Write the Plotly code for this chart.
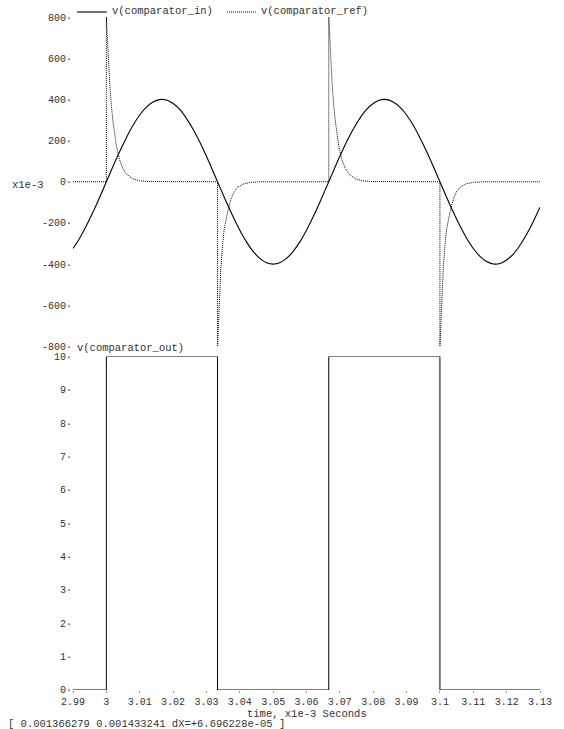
import numpy as np
import plotly.graph_objects as go

# ---- data (time in ms, voltages: top panel in mV, bottom in V) ----
# comparator input: sampled sine, 2 us step from 2.99 ms to 3.13 ms
in_t = np.round(2.99 + 0.002 * np.arange(71), 3)
in_mv = [-324, -274, -214, -147, -75, 0, 75, 147, 214, 274,
         324, 362, 387, 399, 397, 380, 351, 308, 255, 193,
         124, 50, -25, -99, -170, -235, -292, -338, -372, -393,
         -400, -393, -372, -338, -292, -235, -170, -99, -25, 50,
         124, 193, 255, 308, 351, 380, 397, 399, 387, 362,
         324, 274, 214, 147, 75, 0, -75, -147, -214, -274,
         -324, -362, -387, -399, -397, -380, -351, -308, -255, -193,
         -124]

# comparator reference: differentiated edges (spikes that decay back to 0)
ref_t = [2.99,
         3.0, 3.0, 3.0005, 3.001, 3.0015, 3.002, 3.003, 3.004, 3.005, 3.006, 3.008, 3.010, 3.013, 3.018,
         3.03333, 3.03333, 3.03383, 3.03433, 3.03483, 3.03533, 3.03633, 3.03733, 3.03833, 3.03933, 3.04133, 3.04333, 3.04633, 3.05133,
         3.06667, 3.06667, 3.06717, 3.06767, 3.06817, 3.06867, 3.06967, 3.07067, 3.07167, 3.07267, 3.07467, 3.07667, 3.07967, 3.08467,
         3.1, 3.1, 3.1005, 3.101, 3.1015, 3.102, 3.103, 3.104, 3.105, 3.106, 3.108, 3.110, 3.113, 3.118,
         3.13]
ref_mv = [0,
          0, 800, 620, 480, 370, 290, 175, 105, 63, 38, 14, 5, 1, 0,
          0, -800, -570, -420, -310, -230, -150, -85, -48, -27, -9, -3, 0, 0,
          0, 800, 620, 480, 370, 290, 175, 105, 63, 38, 14, 5, 1, 0,
          0, -800, -570, -420, -310, -230, -150, -85, -48, -27, -9, -3, 0, 0,
          0]

# comparator output: 0 / 10 V square wave
out_t = [2.99, 3.0, 3.0, 3.03333, 3.03333, 3.06667, 3.06667, 3.1, 3.1, 3.13]
out_v = [0, 0, 10, 10, 0, 0, 10, 10, 0, 0]

x_ticks = [2.99, 3.0, 3.01, 3.02, 3.03, 3.04, 3.05, 3.06, 3.07, 3.08, 3.09, 3.1, 3.11, 3.12, 3.13]
x_labels = ["2.99", "3", "3.01", "3.02", "3.03", "3.04", "3.05", "3.06", "3.07",
            "3.08", "3.09", "3.1", "3.11", "3.12", "3.13"]
top_ticks = [-800, -600, -400, -200, 0, 200, 400, 600, 800]
bot_ticks = list(range(0, 11))

FONT = "Liberation Mono"
TXT = "#333333"

fig = go.Figure()
fig.add_trace(go.Scatter(x=in_t, y=in_mv, mode="lines", line=dict(color="black", width=1.1, shape="spline"),
                         xaxis="x2", yaxis="y2", name="v(comparator_in)"))
fig.add_trace(go.Scatter(x=ref_t, y=ref_mv, mode="lines", line=dict(color="black", width=1, dash="1px,1px"),
                         xaxis="x2", yaxis="y2", name="v(comparator_ref)"))
fig.add_trace(go.Scatter(x=out_t, y=out_v, mode="lines", line=dict(color="black", width=1),
                         xaxis="x", yaxis="y", name="v(comparator_out)"))

W, H = 564, 729
L, R, T, B = 73, 21, 14, 39
pw, ph = W - L - R, H - T - B


def px(xp):
    return (xp - L) / pw


def py(yp):
    return (H - B - yp) / ph


top_lo = py(345)
bot_hi = py(355)

tickfont = dict(family=FONT, size=10, color=TXT)
fig.update_layout(
    width=W, height=H, margin=dict(l=L, r=R, t=T, b=B),
    plot_bgcolor="white", paper_bgcolor="white", showlegend=False,
    font=dict(family=FONT, size=10, color=TXT),
    xaxis=dict(domain=[0, 1], anchor="y", range=[2.99, 3.13], tickvals=x_ticks, ticktext=x_labels,
               showgrid=False, zeroline=False, showline=False, ticks="outside", ticklen=2,
               tickcolor="#999999", tickfont=tickfont),
    yaxis=dict(domain=[0, bot_hi], anchor="x", range=[0, 10], tickvals=bot_ticks,
               ticktext=[f"{v}\u00b7" for v in bot_ticks], showgrid=False, zeroline=False,
               showline=False, ticks="", tickfont=tickfont, ticklabelstandoff=0),
    xaxis2=dict(domain=[0, 1], anchor="y2", range=[2.99, 3.13], matches="x", showticklabels=False,
                showgrid=False, zeroline=False, showline=False, ticks=""),
    yaxis2=dict(domain=[top_lo, 1], anchor="x2", range=[-800, 800], tickvals=top_ticks,
                ticktext=[f"{v}\u00b7" for v in top_ticks], showgrid=False, zeroline=False,
                showline=False, ticks="", tickfont=tickfont, ticklabelstandoff=0),
)

# legend samples and labels drawn as in the original plotter
fig.add_shape(type="line", xref="paper", yref="paper", x0=px(77), x1=px(107), y0=py(9), y1=py(9),
              line=dict(color="black", width=1.1))
fig.add_shape(type="line", xref="paper", yref="paper", x0=px(228), x1=px(257), y0=py(9), y1=py(9),
              line=dict(color="black", width=1, dash="1px,1px"))


def label(text, x, y, xanchor="left", size=10.5):
    fig.add_annotation(text=text, xref="paper", yref="paper", x=px(x), y=py(y), xanchor=xanchor,
                       yanchor="middle", showarrow=False, borderpad=0,
                       font=dict(family=FONT, size=size, color=TXT))


label("v(comparator_in)", 111, 8)
label("v(comparator_ref)", 261, 8)
label("v(comparator_out)", 76, 346)
label("x1e-3", 45, 183, xanchor="right")
label("time, x1e-3 Seconds", 308, 714, xanchor="center")
label("[ 0.001366279 0.001433241 dX=+6.696228e-05 ]", 7, 724)

fig.write_html("out.html")
